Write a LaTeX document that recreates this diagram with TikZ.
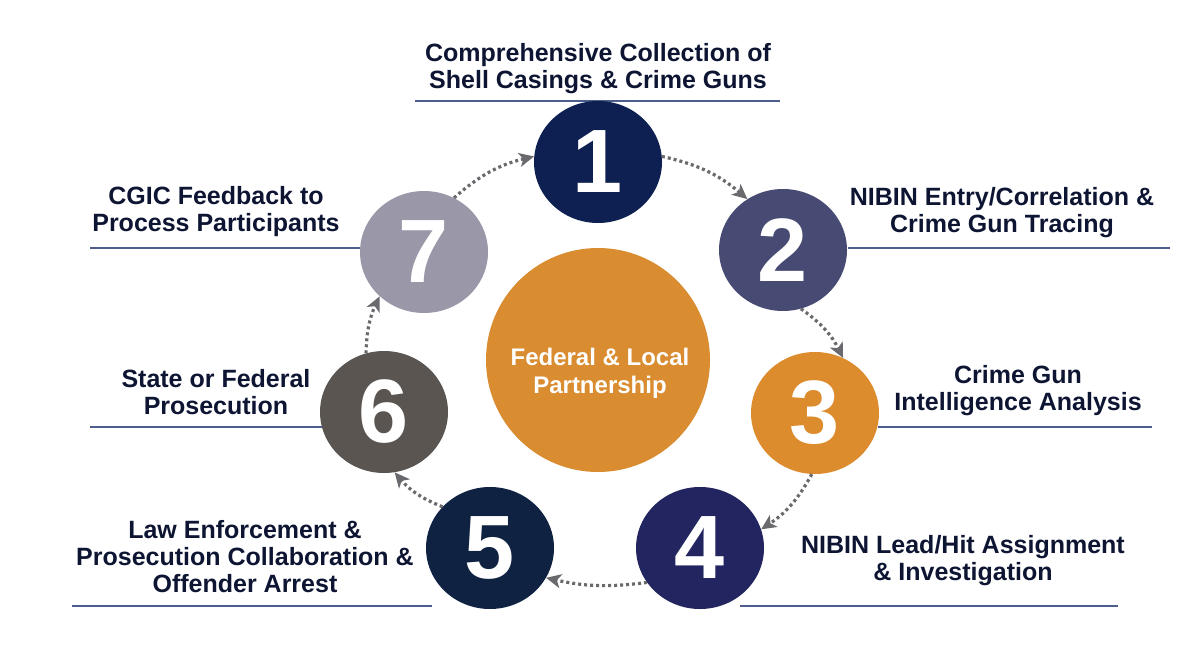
\documentclass[tikz,border=0pt]{standalone}
\usepackage{fontspec}
\setmainfont{Liberation Sans}
\usetikzlibrary{shapes.geometric,arrows.meta}
\definecolor{cone}{HTML}{0E1F52}
\definecolor{ctwo}{HTML}{474A72}
\definecolor{cthree}{HTML}{DC8B2D}
\definecolor{cfour}{HTML}{232560}
\definecolor{cfive}{HTML}{0F2242}
\definecolor{csix}{HTML}{5A5550}
\definecolor{cseven}{HTML}{9A98A8}
\definecolor{ccenter}{HTML}{D98C30}
\definecolor{txt}{HTML}{0D1533}
\definecolor{rulec}{HTML}{4D5E8C}
\definecolor{arrc}{HTML}{6A6A6E}
\begin{document}
\begin{tikzpicture}[x=1pt,y=-1pt,
  numc/.style={ellipse, minimum width=128pt, minimum height=122pt, inner sep=0pt,
    text=white, font=\fontsize{90}{90}\selectfont\bfseries},
  lbl/.style={font=\fontsize{25}{27}\selectfont\bfseries, text=txt, align=center, inner sep=0pt},
  rulel/.style={draw=rulec, line width=1.6pt},
  arr/.style={draw=arrc, line width=3.2pt, dash pattern=on 3pt off 3pt,
    -{Stealth[length=15pt,width=14pt,inset=4pt]}}]
\useasboundingbox[fill=white] (0,0) rectangle (1200,651);

% rules under labels
\coordinate (r1a) at (415,101); \coordinate (r1b) at (780,101);
\coordinate (r2a) at (848,248); \coordinate (r2b) at (1170,248);
\coordinate (r3a) at (878,427); \coordinate (r3b) at (1152,427);
\coordinate (r4a) at (740,606); \coordinate (r4b) at (1118,606);
\coordinate (r5a) at (72,606);  \coordinate (r5b) at (432,606);
\coordinate (r6a) at (90,427);  \coordinate (r6b) at (322,427);
\coordinate (r7a) at (90,248);  \coordinate (r7b) at (360,248);
\foreach \i in {1,...,7} {\draw[rulel] (r\i a) -- (r\i b);}

% centre
\node[circle, fill=ccenter, minimum size=224pt, inner sep=0pt] (hub) at (598,360) {};
\node[font=\fontsize{24}{28}\selectfont\bfseries, text=white, align=center, inner sep=0pt]
  (hubt) at (600,373) {Federal \& Local\\Partnership};

% numbered circles
\node[numc, fill=cone]   (c1) at (598,162) {1};
\node[numc, fill=ctwo]   (c2) at (783,250) {2};
\node[numc, fill=cthree] (c3) at (815,413) {3};
\node[numc, fill=cfour]  (c4) at (700,548) {4};
\node[numc, fill=cfive]  (c5) at (490,548) {5};
\node[numc, fill=csix]   (c6) at (384,412) {6};
\node[numc, fill=cseven] (c7) at (424,252) {7};

% labels
\node[lbl] (t1) at (598,69) {Comprehensive Collection of\\Shell Casings \& Crime Guns};
\node[lbl] (t2) at (1002,212.5) {NIBIN Entry/Correlation \&\\Crime Gun Tracing};
\node[lbl] (t3) at (1018,390.5) {Crime Gun\\Intelligence Analysis};
\node[lbl] (t4) at (963,561) {NIBIN Lead/Hit Assignment\\\& Investigation};
\node[lbl] (t5) at (245,556.5) {Law Enforcement \&\\Prosecution Collaboration \&\\Offender Arrest};
\node[lbl] (t6) at (216,392) {State or Federal\\Prosecution};
\node[lbl] (t7) at (216,211.5) {CGIC Feedback to\\Process Participants};

% cycle arrows
\draw[arr] (c1.5)   to[bend left=14] (c2.125);
\draw[arr] (c2.-73) to[bend left=14] (c3.63);
\draw[arr] (c3.-93) to[bend left=14] (c4.17);
\draw[arr] (c4.-147) to[bend left=10] (c5.-28);
\draw[arr] (c5.139) to[bend left=14] (c6.-80);
\draw[arr] (c6.107) to[bend left=12] (c7.-135);
\draw[arr] (c7.61)  to[bend left=14] (c1.175);
\end{tikzpicture}
\end{document}
